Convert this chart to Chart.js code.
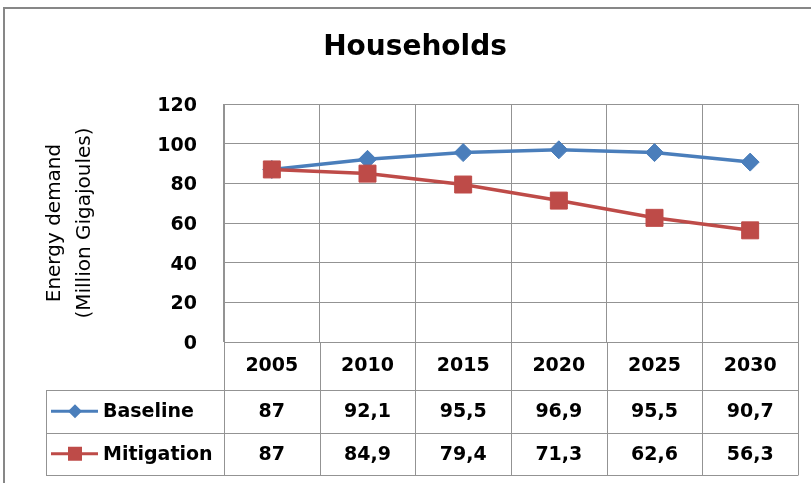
<!DOCTYPE html>
<html><head><meta charset="utf-8">
<script src="https://cdn.jsdelivr.net/npm/chart.js@4/dist/chart.umd.min.js"></script>
<style>html,body{margin:0;padding:0;background:#fff}#wrap{width:811px;height:483px;position:relative}</style>
</head><body><div id="wrap"><canvas id="c" width="811" height="483"></canvas></div>
<script>
const categories = ['2005', '2010', '2015', '2020', '2025', '2030'];
const baseline = [87, 92.1, 95.5, 96.9, 95.5, 90.7];
const mitigation = [87, 84.9, 79.4, 71.3, 62.6, 56.3];
const seriesNames = ['Baseline', 'Mitigation'];
const yTicks = [0, 20, 40, 60, 80, 100, 120];
const titleText = 'Households';
const yTitle = ['Energy demand', '(Million Gigajoules)'];

const BLUE = '#4A7EBB', RED = '#BE4B48';
const FONT = '"DejaVu Sans", "Open Sans", sans-serif';
const GRID = '#939393';

const fmt = v => String(v).replace('.', ',');

const tablePlugin = {
  id: 'dataTable',
  beforeDraw(chart) {
    const ctx = chart.ctx;
    ctx.save();
    ctx.fillStyle = '#fff';
    ctx.fillRect(0, 0, chart.width, chart.height);
    ctx.strokeStyle = '#878787';
    ctx.lineWidth = 2;
    ctx.strokeRect(4, 8, chart.width + 20, chart.height + 20);
    ctx.restore();
  },
  afterDraw(chart) {
    const ctx = chart.ctx, xs = chart.scales.x, area = chart.chartArea;
    const n = categories.length;
    const top = xs.bottom;
    const rowH = 42.5;
    const left = 46;
    const bottom = top + rowH * 2;
    const line = (x1, y1, x2, y2) => { ctx.beginPath(); ctx.moveTo(x1, y1); ctx.lineTo(x2, y2); ctx.stroke(); };
    ctx.save();
    ctx.strokeStyle = GRID;
    ctx.lineWidth = 1;
    for (let r = 0; r <= 2; r++) {
      const y = Math.round(top + r * rowH) + 0.5;
      line(left, y, area.right, y);
    }
    for (let i = 0; i <= n; i++) {
      const bx = Math.round(area.left + i * (area.width / n)) + 0.5;
      line(bx, area.bottom, bx, Math.round(bottom) + 0.5);
    }
    line(left + 0.5, Math.round(top) + 0.5, left + 0.5, Math.round(bottom) + 0.5);

    const sets = [baseline, mitigation];
    const colors = [BLUE, RED];
    ctx.font = 'bold 19px ' + FONT;
    ctx.textBaseline = 'middle';
    ctx.fillStyle = '#000';
    for (let r = 0; r < 2; r++) {
      const cy = top + r * rowH + rowH / 2;
      ctx.textAlign = 'center';
      ctx.fillStyle = '#000';
      sets[r].forEach((v, i) => {
        ctx.fillText(fmt(v), xs.getPixelForValue(i), cy + 1);
      });
      // legend key
      ctx.strokeStyle = colors[r];
      ctx.lineWidth = 3;
      line(51, cy, 98, cy);
      ctx.fillStyle = colors[r];
      ctx.beginPath();
      if (r === 0) {
        ctx.moveTo(75, cy - 7); ctx.lineTo(82, cy); ctx.lineTo(75, cy + 7); ctx.lineTo(68, cy); ctx.closePath();
      } else {
        ctx.rect(68, cy - 7, 14, 14);
      }
      ctx.fill();
      ctx.fillStyle = '#000';
      ctx.textAlign = 'left';
      ctx.fillText(seriesNames[r], 103, cy + 1);
    }
    ctx.restore();
  }
};

new Chart(document.getElementById('c'), {
  type: 'line',
  data: {
    labels: categories,
    datasets: [
      {
        label: seriesNames[0], data: baseline, order: 1,
        borderColor: BLUE, backgroundColor: BLUE, borderWidth: 3.5,
        pointStyle: 'rectRot', pointRadius: 9, pointBorderWidth: 1,
        pointBackgroundColor: BLUE, pointBorderColor: BLUE, tension: 0
      },
      {
        label: seriesNames[1], data: mitigation, order: 0,
        borderColor: RED, backgroundColor: RED, borderWidth: 3.5,
        pointStyle: 'rect', pointRadius: 12, pointBorderWidth: 1,
        pointBackgroundColor: RED, pointBorderColor: RED, tension: 0
      }
    ]
  },
  options: {
    responsive: false,
    animation: false,
    devicePixelRatio: 1,
    layout: { padding: { left: 31, right: 12, top: 0, bottom: 93 } },
    plugins: {
      legend: { display: false },
      tooltip: { enabled: false },
      title: {
        display: true, text: titleText, color: '#000',
        font: { family: FONT, size: 28, weight: 'bold', lineHeight: 1.2 },
        padding: { top: 31, bottom: 39.4 }
      }
    },
    scales: {
      x: {
        offset: true,
        grid: { offset: true, color: GRID, drawTicks: false, lineWidth: 1 },
        border: { display: true, color: GRID },
        ticks: { color: '#000', padding: 13, font: { family: FONT, size: 19, weight: 'bold' } },
        afterFit: s => { s.height = 48; }
      },
      y: {
        min: 0, max: 120,
        afterBuildTicks: s => { s.ticks = yTicks.map(v => ({ value: v })); },
        grid: { color: GRID, drawTicks: false, lineWidth: 1 },
        border: { display: true, color: GRID },
        ticks: { color: '#000', padding: 27, labelOffset: 2, font: { family: FONT, size: 19, weight: 'bold' } },
        title: {
          display: true, text: yTitle, color: '#000',
          font: { family: FONT, size: 20, lineHeight: 1.5 },
          padding: { top: 9, bottom: 0 }
        },
        afterFit: s => { s.width = 193; }
      }
    }
  },
  plugins: [tablePlugin]
});
</script>
</body></html>
